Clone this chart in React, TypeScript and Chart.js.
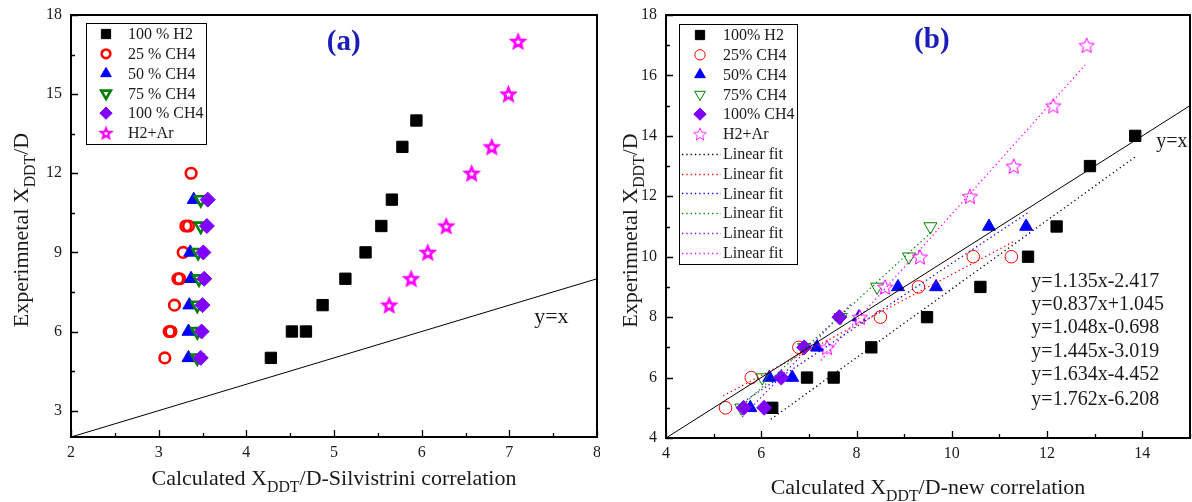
import React, { useEffect, useRef } from 'react';
import { Chart, registerables } from 'chart.js';
Chart.register(...registerables);

const FONT = '"Liberation Serif", "Times New Roman", Times, serif';

// ---------------- Panel (a) ----------------
const aXTicks = [2, 3, 4, 5, 6, 7, 8];
const aXMinor = [2.5, 3.5, 4.5, 5.5, 6.5, 7.5];
const aYTicks = [3, 6, 9, 12, 15, 18];
const aYMinor = [4.5, 7.5, 10.5, 13.5, 16.5];

const aH2X = [4.28, 4.52, 4.68, 4.87, 5.13, 5.36, 5.54, 5.66, 5.78, 5.94];
const aH2Y = [5, 6, 6, 7, 8, 9, 10, 11, 13, 14];
const aC25X = [3.07, 3.12, 3.14, 3.18, 3.22, 3.24, 3.28, 3.31, 3.34, 3.37];
const aC25Y = [5, 6, 6, 7, 8, 8, 9, 10, 10, 12];
const aC50X = [3.34, 3.34, 3.35, 3.37, 3.36, 3.4];
const aC50Y = [5, 6, 7, 8, 9, 11];
const aC75X = [3.44, 3.44, 3.44, 3.46, 3.45, 3.48, 3.48];
const aC75Y = [5, 6, 7, 8, 9, 10, 11];
const aC100X = [3.48, 3.49, 3.5, 3.52, 3.51, 3.55, 3.56];
const aC100Y = [5, 6, 7, 8, 9, 10, 11];
const aArX = [5.63, 5.88, 6.07, 6.28, 6.57, 6.8, 6.99, 7.1];
const aArY = [7, 8, 9, 10, 12, 13, 15, 17];
const aRefX = [2, 8];
const aRefY = [2, 8];
const aLegendLabels = ['100 % H2', '25 % CH4', '50 % CH4', '75 % CH4', '100 % CH4', 'H2+Ar'];

// ---------------- Panel (b) ----------------
const bXTicks = [4, 6, 8, 10, 12, 14];
const bXMinor = [5, 7, 9, 11, 13, 15];
const bYTicks = [4, 6, 8, 10, 12, 14, 16, 18];
const bYMinor = [5, 7, 9, 11, 13, 15, 17];

const bH2X = [6.23, 6.96, 7.52, 8.31, 9.48, 10.6, 11.6, 12.2, 12.9, 13.85];
const bH2Y = [5, 6, 6, 7, 8, 9, 10, 11, 13, 14];
const bC25X = [5.25, 5.79, 6.79, 8.5, 9.3, 10.45, 11.25];
const bC25Y = [5, 6, 7, 8, 9, 10, 10];
const bC50X = [5.77, 6.17, 6.65, 7.17, 8.05, 8.87, 9.67, 10.78, 11.56];
const bC50Y = [5, 6, 6, 7, 8, 9, 9, 11, 11];
const bC75X = [5.58, 6.02, 6.9, 7.67, 8.43, 9.1, 9.55];
const bC75Y = [5, 6, 7, 8, 9, 10, 11];
const bC100X = [5.63, 6.06, 6.42, 6.9, 7.64];
const bC100Y = [5, 5, 6, 7, 8];
const bArX = [7.38, 8.07, 8.6, 9.33, 10.38, 11.3, 12.13, 12.83];
const bArY = [7, 8, 9, 10, 12, 13, 15, 17];
const bRefX = [4, 15];
const bRefY = [4, 15];
const bLegendLabels = ['100% H2', '25% CH4', '50% CH4', '75% CH4', '100% CH4', 'H2+Ar'];
const fitLabel = 'Linear fit';
const fitSlopes = [1.135, 0.837, 1.048, 1.445, 1.634, 1.762];
const fitIntercepts = [-2.417, 1.045, -0.698, -3.019, -4.452, -6.208];
const fitXStart = [6.2, 5.2, 5.7, 5.55, 5.6, 7.25];
const fitXEnd = [13.85, 11.3, 11.6, 9.6, 7.9, 12.8];
const equationTexts = ['y=1.135x-2.417', 'y=0.837x+1.045', 'y=1.048x-0.698', 'y=1.445x-3.019', 'y=1.634x-4.452', 'y=1.762x-6.208'];
const equationX = 11.67;
const equationY = [9.16, 8.4, 7.64, 6.84, 6.08, 5.28];

const seriesColors = ['#000000', '#ff0000', '#0000ff', '#008000', '#8000ff', '#ff00ff'];
const seriesKinds = ['square', 'circle', 'tri', 'tridown', 'diamond', 'star'];

type Spec = { r: number; lw: number; open: boolean };
const aSpecs: Spec[] = [
  { r: 8, lw: 1, open: false },
  { r: 5.3, lw: 2.6, open: true },
  { r: 7.5, lw: 1, open: false },
  { r: 6.8, lw: 2.6, open: true },
  { r: 7.5, lw: 1, open: false },
  { r: 6.5, lw: 2.6, open: true },
];
const bSpecs: Spec[] = [
  { r: 8, lw: 1, open: false },
  { r: 6.3, lw: 1, open: true },
  { r: 7.5, lw: 1, open: false },
  { r: 7.5, lw: 1, open: true },
  { r: 7.5, lw: 1, open: false },
  { r: 8, lw: 1, open: true },
];

function makeStar(R: number, lw: number, color: string): HTMLCanvasElement {
  const size = Math.ceil(2 * R + 2 * lw + 4);
  const c = document.createElement('canvas');
  c.width = size;
  c.height = size;
  const g = c.getContext('2d')!;
  g.translate(size / 2, size / 2 + R * 0.1);
  g.beginPath();
  for (let i = 0; i < 10; i++) {
    const rr = i % 2 === 0 ? R : R * 0.45;
    const a = -Math.PI / 2 + (i * Math.PI) / 5;
    g.lineTo(rr * Math.cos(a), rr * Math.sin(a));
  }
  g.closePath();
  g.fillStyle = '#ffffff';
  g.fill();
  g.lineWidth = lw;
  g.strokeStyle = color;
  g.lineJoin = 'miter';
  g.stroke();
  return c;
}

function pointDataset(label: string, idx: number, xs: number[], ys: number[], spec: Spec, star: HTMLCanvasElement) {
  const kind = seriesKinds[idx];
  const color = seriesColors[idx];
  const styleMap: Record<string, any> = {
    square: 'rect', circle: 'circle', tri: 'triangle', tridown: 'triangle', diamond: 'rectRot', star,
  };
  return {
    label,
    data: xs.map((x, i) => ({ x, y: ys[i] })),
    showLine: false,
    order: 20 - idx,
    pointStyle: styleMap[kind],
    pointRotation: kind === 'tridown' ? 180 : 0,
    pointRadius: spec.r,
    pointHoverRadius: spec.r,
    pointBorderWidth: spec.lw,
    pointBorderColor: color,
    pointBackgroundColor: spec.open ? 'rgba(255,255,255,0)' : color,
  };
}

function lineDataset(label: string, xs: number[], ys: number[], color: string, dashed: boolean, order: number) {
  return {
    label,
    data: xs.map((x, i) => ({ x, y: ys[i] })),
    showLine: true,
    order,
    borderColor: color,
    borderWidth: dashed ? 1.3 : 1,
    borderDash: dashed ? [1.3, 3] : [],
    pointRadius: 0,
    pointHoverRadius: 0,
  };
}

function drawMarker(ctx: CanvasRenderingContext2D, idx: number, spec: Spec, x: number, y: number, k: number, star: HTMLCanvasElement) {
  const kind = seriesKinds[idx];
  const color = seriesColors[idx];
  const r = spec.r * k;
  ctx.save();
  ctx.translate(x, y);
  ctx.fillStyle = color;
  ctx.strokeStyle = color;
  ctx.lineWidth = spec.lw;
  ctx.beginPath();
  if (kind === 'square') {
    const h = r * Math.SQRT1_2;
    ctx.rect(-h, -h, 2 * h, 2 * h);
  } else if (kind === 'circle') {
    ctx.arc(0, 0, r, 0, Math.PI * 2);
  } else if (kind === 'tri' || kind === 'tridown') {
    const s = kind === 'tri' ? 1 : -1;
    for (let i = 0; i < 3; i++) {
      const a = (i * 2 * Math.PI) / 3;
      ctx.lineTo(Math.sin(a) * r, -Math.cos(a) * r * s);
    }
    ctx.closePath();
  } else if (kind === 'diamond') {
    ctx.moveTo(0, -r);
    ctx.lineTo(r, 0);
    ctx.lineTo(0, r);
    ctx.lineTo(-r, 0);
    ctx.closePath();
  }
  if (kind === 'star') {
    const w = star.width * k, h = star.height * k;
    ctx.drawImage(star, -w / 2, -h / 2, w, h);
  } else {
    if (!spec.open) ctx.fill();
    ctx.stroke();
  }
  ctx.restore();
}

type Part = { t: string; sub?: boolean };
function drawRich(ctx: CanvasRenderingContext2D, parts: Part[], x: number, y: number, size: number, rotate: boolean) {
  ctx.save();
  ctx.translate(x, y);
  if (rotate) ctx.rotate(-Math.PI / 2);
  const subSize = size * 0.72;
  const widths = parts.map((p) => {
    ctx.font = `${p.sub ? subSize : size}px ${FONT}`;
    return ctx.measureText(p.t).width;
  });
  const total = widths.reduce((s, w) => s + w, 0);
  let cx = -total / 2;
  ctx.textAlign = 'left';
  ctx.textBaseline = 'alphabetic';
  ctx.fillStyle = '#1a1a1a';
  parts.forEach((p, i) => {
    ctx.font = `${p.sub ? subSize : size}px ${FONT}`;
    ctx.fillText(p.t, cx, p.sub ? size * 0.3 : 0);
    cx += widths[i];
  });
  ctx.restore();
}

type PanelCfg = {
  xMajor: number[]; xMinor: number[]; yMajor: number[]; yMinor: number[];
  title: string; titleX: number; titleY: number;
  xTitle: Part[]; yTitle: Part[]; xTitleY: number; yTitleX: number;
  refText: string; refX: number; refY: number; refSize: number;
  legendLabels: string[]; legendFits: boolean; specs: Spec[];
  legendBox: { dx: number; dy: number; w: number; h: number; row0: number; step: number; mx: number; tx: number };
  equations: boolean;
  star: HTMLCanvasElement; legendStar: HTMLCanvasElement;
};

function panelPlugin(cfg: PanelCfg) {
  return {
    id: 'panelDecor',
    afterDatasetsDraw(chart: any) {
      const { ctx, chartArea: ca, scales } = chart;
      const xs = scales.x, ys = scales.y;
      ctx.save();
      ctx.strokeStyle = '#000';
      ctx.lineWidth = 1.3;
      ctx.beginPath();
      const vt = (v: number, len: number) => {
        const p = Math.round(xs.getPixelForValue(v)) + 0.5;
        ctx.moveTo(p, ca.bottom);
        ctx.lineTo(p, ca.bottom - len);
      };
      const ht = (v: number, len: number) => {
        const p = Math.round(ys.getPixelForValue(v)) + 0.5;
        ctx.moveTo(ca.left, p);
        ctx.lineTo(ca.left + len, p);
      };
      cfg.xMajor.forEach((v) => vt(v, 7));
      cfg.xMinor.forEach((v) => vt(v, 4));
      cfg.yMajor.forEach((v) => ht(v, 7));
      cfg.yMinor.forEach((v) => ht(v, 4));
      ctx.stroke();
      ctx.lineWidth = 2;
      ctx.strokeRect(ca.left, ca.top, ca.right - ca.left, ca.bottom - ca.top);
      ctx.restore();
    },
    afterDraw(chart: any) {
      const { ctx, chartArea: ca, scales } = chart;
      const xs = scales.x, ys = scales.y;
      ctx.save();
      ctx.font = `bold 29px ${FONT}`;
      ctx.fillStyle = '#1c1cb8';
      ctx.textAlign = 'center';
      ctx.textBaseline = 'middle';
      ctx.fillText(cfg.title, xs.getPixelForValue(cfg.titleX), ys.getPixelForValue(cfg.titleY));
      ctx.font = `${cfg.refSize}px ${FONT}`;
      ctx.fillStyle = '#1a1a1a';
      ctx.fillText(cfg.refText, xs.getPixelForValue(cfg.refX), ys.getPixelForValue(cfg.refY));
      if (cfg.equations) {
        ctx.font = `20px ${FONT}`;
        ctx.textAlign = 'left';
        equationTexts.forEach((t, i) => {
          ctx.fillText(t, xs.getPixelForValue(equationX), ys.getPixelForValue(equationY[i]));
        });
      }
      drawRich(ctx, cfg.xTitle, (ca.left + ca.right) / 2, cfg.xTitleY, 22, false);
      drawRich(ctx, cfg.yTitle, cfg.yTitleX, (ca.top + ca.bottom) / 2 + 4, 22, true);
      const L = cfg.legendBox;
      const bx = ca.left + L.dx, by = ca.top + L.dy;
      ctx.fillStyle = '#fff';
      ctx.fillRect(bx, by, L.w, L.h);
      ctx.strokeStyle = '#000';
      ctx.lineWidth = 1;
      ctx.strokeRect(Math.round(bx) + 0.5, Math.round(by) + 0.5, L.w, L.h);
      ctx.font = `16px ${FONT}`;
      ctx.textAlign = 'left';
      ctx.textBaseline = 'middle';
      cfg.legendLabels.forEach((lab, i) => {
        const yy = by + L.row0 + i * L.step;
        drawMarker(ctx, i, cfg.specs[i], bx + L.mx, yy, 0.82, cfg.legendStar);
        ctx.fillStyle = '#1a1a1a';
        ctx.fillText(lab, bx + L.tx, yy + 1);
      });
      if (cfg.legendFits) {
        seriesColors.forEach((c, j) => {
          const yy = by + L.row0 + (cfg.legendLabels.length + j) * L.step;
          ctx.save();
          ctx.strokeStyle = c;
          ctx.lineWidth = 1.3;
          ctx.setLineDash([1.3, 3]);
          ctx.beginPath();
          ctx.moveTo(bx + 3, Math.round(yy) + 0.5);
          ctx.lineTo(bx + L.tx - 2, Math.round(yy) + 0.5);
          ctx.stroke();
          ctx.restore();
          ctx.fillStyle = '#1a1a1a';
          ctx.fillText(fitLabel, bx + L.tx, yy + 1);
        });
      }
      ctx.restore();
    },
  };
}

function baseOptions(xMin: number, xMax: number, yMin: number, yMax: number, xT: number[], yT: number[], yWidth: number, xHeight: number, padRight: number) {
  const tickFont = { family: FONT, size: 16 };
  return {
    responsive: false,
    animation: false as const,
    events: [] as any[],
    layout: { autoPadding: false, padding: { top: 15, right: padRight, left: 0, bottom: 0 } },
    plugins: { legend: { display: false }, tooltip: { enabled: false }, title: { display: false } },
    scales: {
      x: {
        type: 'linear' as const, min: xMin, max: xMax,
        afterBuildTicks: (s: any) => { s.ticks = xT.map((v) => ({ value: v })); },
        afterFit: (s: any) => { s.height = xHeight; s.paddingLeft = 0; s.paddingRight = 0; },
        grid: { display: true, drawOnChartArea: false, drawTicks: true, tickLength: 6, color: 'rgba(0,0,0,0)' },
        border: { display: false },
        ticks: { padding: 0, font: tickFont, color: '#1a1a1a', maxRotation: 0, autoSkip: false },
      },
      y: {
        type: 'linear' as const, min: yMin, max: yMax,
        afterBuildTicks: (s: any) => { s.ticks = yT.map((v) => ({ value: v })); },
        afterFit: (s: any) => { s.width = yWidth; s.paddingTop = 0; s.paddingBottom = 0; },
        grid: { display: false, drawTicks: false },
        border: { display: false },
        ticks: { padding: 9, font: tickFont, color: '#1a1a1a', autoSkip: false },
      },
    },
  };
}

export default function App() {
  const refA = useRef<HTMLCanvasElement>(null);
  const refB = useRef<HTMLCanvasElement>(null);

  useEffect(() => {
    const starA = makeStar(aSpecs[5].r, aSpecs[5].lw, seriesColors[5]);
    const starB = makeStar(bSpecs[5].r, bSpecs[5].lw, seriesColors[5]);

    const aSeries = [[aH2X, aH2Y], [aC25X, aC25Y], [aC50X, aC50Y], [aC75X, aC75Y], [aC100X, aC100Y], [aArX, aArY]];
    const aDatasets: any[] = aSeries.map((s, i) => pointDataset(aLegendLabels[i], i, s[0], s[1], aSpecs[i], starA));
    aDatasets.push(lineDataset('y=x', aRefX, aRefY, '#000', false, 30));

    const chartA = new Chart(refA.current!, {
      type: 'scatter',
      data: { datasets: aDatasets },
      options: baseOptions(2, 8, 2, 18, aXTicks, aYTicks, 71, 65, 3) as any,
      plugins: [panelPlugin({
        xMajor: aXTicks, xMinor: aXMinor, yMajor: aYTicks, yMinor: aYMinor,
        title: '(a)', titleX: 5.11, titleY: 16.94,
        xTitle: [{ t: 'Calculated X' }, { t: 'DDT', sub: true }, { t: '/D-Silvistrini correlation' }],
        yTitle: [{ t: 'Experimnetal X' }, { t: 'DDT', sub: true }, { t: '/D' }],
        xTitleY: 485, yTitleX: 28,
        refText: 'y=x', refX: 7.48, refY: 6.55, refSize: 22,
        legendLabels: aLegendLabels, legendFits: false, specs: aSpecs,
        legendBox: { dx: 15, dy: 8, w: 120, h: 121, row0: 11, step: 19.8, mx: 20, tx: 42 },
        equations: false, star: starA, legendStar: starA,
      }) as any],
    });

    const bSeries = [[bH2X, bH2Y], [bC25X, bC25Y], [bC50X, bC50Y], [bC75X, bC75Y], [bC100X, bC100Y], [bArX, bArY]];
    const bDatasets: any[] = bSeries.map((s, i) => pointDataset(bLegendLabels[i], i, s[0], s[1], bSpecs[i], starB));
    seriesColors.forEach((c, j) => {
      const x0 = fitXStart[j], x1 = fitXEnd[j];
      bDatasets.push(lineDataset(fitLabel, [x0, x1], [fitSlopes[j] * x0 + fitIntercepts[j], fitSlopes[j] * x1 + fitIntercepts[j]], c, true, 2));
    });
    bDatasets.push(lineDataset('y=x', bRefX, bRefY, '#000', false, 1));

    const chartB = new Chart(refB.current!, {
      type: 'scatter',
      data: { datasets: bDatasets },
      options: baseOptions(4, 15, 4, 18, bXTicks, bYTicks, 66, 64, 2) as any,
      plugins: [panelPlugin({
        xMajor: bXTicks, xMinor: bXMinor, yMajor: bYTicks, yMinor: bYMinor,
        title: '(b)', titleX: 9.58, titleY: 17.14,
        xTitle: [{ t: 'Calculated X' }, { t: 'DDT', sub: true }, { t: '/D-new correlation' }],
        yTitle: [{ t: 'Experimnetal X' }, { t: 'DDT', sub: true }, { t: '/D' }],
        xTitleY: 494, yTitleX: 37,
        refText: 'y=x', refX: 14.62, refY: 13.8, refSize: 20,
        legendLabels: bLegendLabels, legendFits: true, specs: bSpecs,
        legendBox: { dx: 13, dy: 9, w: 118, h: 240, row0: 11, step: 19.8, mx: 21, tx: 44 },
        equations: true, star: starB, legendStar: starB,
      }) as any],
    });

    return () => {
      chartA.destroy();
      chartB.destroy();
    };
  }, []);

  return (
    <div style={{ position: 'fixed', left: 0, top: 0, width: 1192, height: 502, background: '#fff', overflow: 'hidden' }}>
      <canvas ref={refA} width={600} height={502} style={{ position: 'absolute', left: 0, top: 0, width: 600, height: 502 }} />
      <canvas ref={refB} width={592} height={502} style={{ position: 'absolute', left: 600, top: 0, width: 592, height: 502 }} />
    </div>
  );
}
